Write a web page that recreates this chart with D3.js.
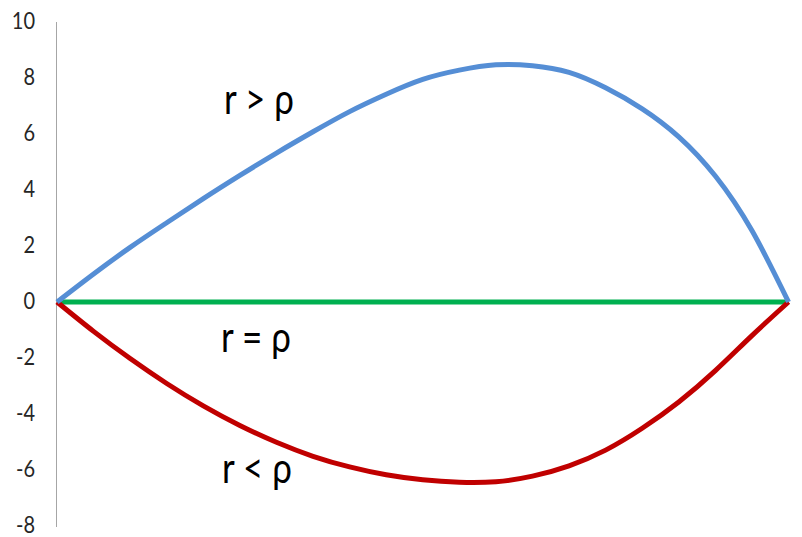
<!DOCTYPE html>
<html>
<head>
<meta charset="utf-8">
<script src="https://cdn.jsdelivr.net/npm/d3@7"></script>
<style>
  body { margin: 0; background: #fff; }
  text { font-family: Lato, "Open Sans", sans-serif; fill: #262626; }
</style>
</head>
<body>
<script>
const width = 802
const height = 537

// x positions (no labels on the x axis)
const steps = d3.range(0, 21)

// values
const above = [0, 1.0, 1.95, 2.83, 3.69, 4.52, 5.32, 6.08, 6.8, 7.42, 7.95,
               8.28, 8.47, 8.44, 8.2, 7.65, 6.9, 5.9, 4.5, 2.55, 0]
const equal = steps.map(() => 0)
const below = [0, -1.05, -2.02, -2.91, -3.71, -4.41, -5.01, -5.51, -5.89, -6.17, -6.35,
               -6.44, -6.42, -6.22, -5.85, -5.29, -4.51, -3.57, -2.45, -1.2, 0]

const yTicks = [10, 8, 6, 4, 2, 0, -2, -4, -6, -8]

const labels = [
    { text: "r > ρ", x: 224, y: 114 },
    { text: "r = ρ", x: 221, y: 352 },
    { text: "r < ρ", x: 222, y: 483 }
]

const stretch = 1.2

var svg = d3.select("body").append("svg")
    .attr("width", width)
    .attr("height", height)

var x = d3.scaleLinear().domain([0, 20]).range([57, 788.5])
var y = d3.scaleLinear().domain([-8, 10]).range([526, 22])

// axis line
svg.append("line")
    .attr("x1", 56.5).attr("x2", 56.5)
    .attr("y1", 22).attr("y2", 527)
    .attr("stroke", "#a6a6a6")
    .attr("stroke-width", 1)

// tick labels
svg.selectAll("text.tick")
    .data(yTicks)
    .enter()
    .append("text")
    .attr("class", "tick")
    .attr("transform", d => `translate(35,${y(d) + 7}) scale(1,${stretch})`)
    .attr("text-anchor", "end")
    .attr("font-size", 20)
    .text(d => d)

var line = d3.line()
    .x((d, i) => x(i))
    .y(d => y(d))
    .curve(d3.curveNatural)

const series = [
    { values: equal, color: "#00b050" },
    { values: below, color: "#c00000" },
    { values: above, color: "#558ed5" }
]

svg.selectAll("path.series")
    .data(series)
    .enter()
    .append("path")
    .attr("class", "series")
    .attr("d", s => line(s.values))
    .attr("fill", "none")
    .attr("stroke", s => s.color)
    .attr("stroke-width", 5)
    .attr("stroke-linejoin", "round")

svg.selectAll("text.lbl")
    .data(labels)
    .enter()
    .append("text")
    .attr("class", "lbl")
    .attr("transform", d => `translate(${d.x},${d.y}) scale(1,${stretch})`)
    .attr("font-size", 35)
    .style("fill", "#000")
    .text(d => d.text)
</script>
</body>
</html>
